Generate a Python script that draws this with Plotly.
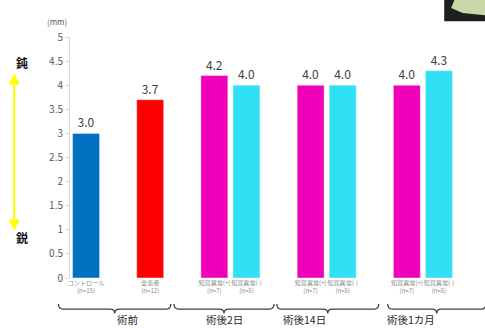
import plotly.graph_objects as go

categories = ["コントロール<br>(n=15)", "全患者<br>(n=12)",
              "知覚異常(+)<br>(n=7)", "知覚異常(-)<br>(n=5)",
              "知覚異常(+)<br>(n=7)", "知覚異常(-)<br>(n=5)",
              "知覚異常(+)<br>(n=7)", "知覚異常(-)<br>(n=5)"]
values = [3.0, 3.7, 4.2, 4.0, 4.0, 4.0, 4.0, 4.3]
slots = [0, 2, 4, 5, 7, 8, 10, 11]
colors = ["#0070C0", "#FF0000", "#F000B8", "#30E0F4",
          "#F000B8", "#30E0F4", "#F000B8", "#30E0F4"]
groups = ["術前", "術後2日", "術後14日", "術後1カ月"]
group_spans = [(-0.03, 0.262), (0.27, 0.53), (0.537, 0.802), (0.825, 1.08)]
y_ticks = [0, 0.5, 1, 1.5, 2, 2.5, 3, 3.5, 4, 4.5, 5]

FONT = "Noto Sans CJK JP"

fig = go.Figure(go.Bar(
    x=slots, y=values, marker_color=colors, width=0.84,
    text=[f"{v:.1f}" for v in values], textposition="outside",
    textfont=dict(size=12, color="#404040", family=FONT),
    cliponaxis=False,
))

shapes = []
annotations = []
yb_top, yb_mid, yb_bot = -0.108, -0.129, -0.147
for (x0, x1), g in zip(group_spans, groups):
    xc = (x0 + x1) / 2
    d = 0.012
    path = (f"M {x0},{yb_top} Q {x0},{yb_mid} {x0+d},{yb_mid} "
            f"L {xc-d},{yb_mid} Q {xc},{yb_mid} {xc},{yb_bot} "
            f"Q {xc},{yb_mid} {xc+d},{yb_mid} "
            f"L {x1-d},{yb_mid} Q {x1},{yb_mid} {x1},{yb_top}")
    shapes.append(dict(type="path", path=path, xref="paper", yref="paper",
                       line=dict(color="#404040", width=1.3)))
    annotations.append(dict(x=xc, y=-0.172, xref="paper", yref="paper",
                            text=g, showarrow=False, yanchor="middle",
                            font=dict(size=10.5, color="#262626", family=FONT)))

# yellow double arrow
annotations.append(dict(x=-0.145, y=0.85, xref="paper", yref="paper",
                        ax=0, ay=159, axref="pixel", ayref="pixel",
                        showarrow=True, arrowside="end+start", arrowhead=2,
                        arrowsize=1.1, arrowwidth=2, arrowcolor="#FFFF00",
                        text=""))
annotations.append(dict(x=-0.145, y=0.938, xref="paper", yref="paper",
                        text="<b>鈍</b>", showarrow=False,
                        font=dict(size=12, color="#111111", family=FONT)))
annotations.append(dict(x=-0.145, y=0.124, xref="paper", yref="paper",
                        text="<b>鋭</b>", showarrow=False,
                        font=dict(size=12, color="#111111", family=FONT)))
annotations.append(dict(x=-0.065, y=1.095, xref="paper", yref="paper",
                        text="(mm)", showarrow=False,
                        font=dict(size=8, color="#595959", family=FONT)))

# corner picture fragment
shapes.append(dict(type="rect", xref="paper", yref="paper",
                   x0=0.972, x1=1.08, y0=1.065, y1=1.16,
                   fillcolor="#1e1e1e", line=dict(width=0)))
shapes.append(dict(type="path", xref="paper", yref="paper",
                   path="M 1.0,1.16 L 0.99,1.12 L 1.02,1.10 L 1.08,1.09 L 1.08,1.16 Z",
                   fillcolor="#c9d8a6", line=dict(width=0)))

fig.update_layout(
    width=485, height=329,
    margin=dict(l=70, r=30, t=37, b=51),
    paper_bgcolor="white", plot_bgcolor="white",
    showlegend=False,
    font=dict(family=FONT),
    xaxis=dict(range=[-0.5, 11.5], tickmode="array", tickvals=slots,
               ticktext=categories, showgrid=False, zeroline=False,
               showline=False, ticks="", tickangle=0,
               tickfont=dict(size=6.1, color="#8c8c8c", family=FONT)),
    yaxis=dict(range=[0, 5], tickvals=y_ticks, showgrid=False,
               zeroline=False, showline=True, linecolor="#d9d9d9",
               ticks="outside", ticklen=4, tickcolor="#d9d9d9",
               tickfont=dict(size=10, color="#595959", family=FONT)),
    shapes=shapes, annotations=annotations,
)

fig.write_html("out.html", config={"displayModeBar": False},
               post_script="document.body.style.margin='0';document.body.style.overflow='hidden';")
